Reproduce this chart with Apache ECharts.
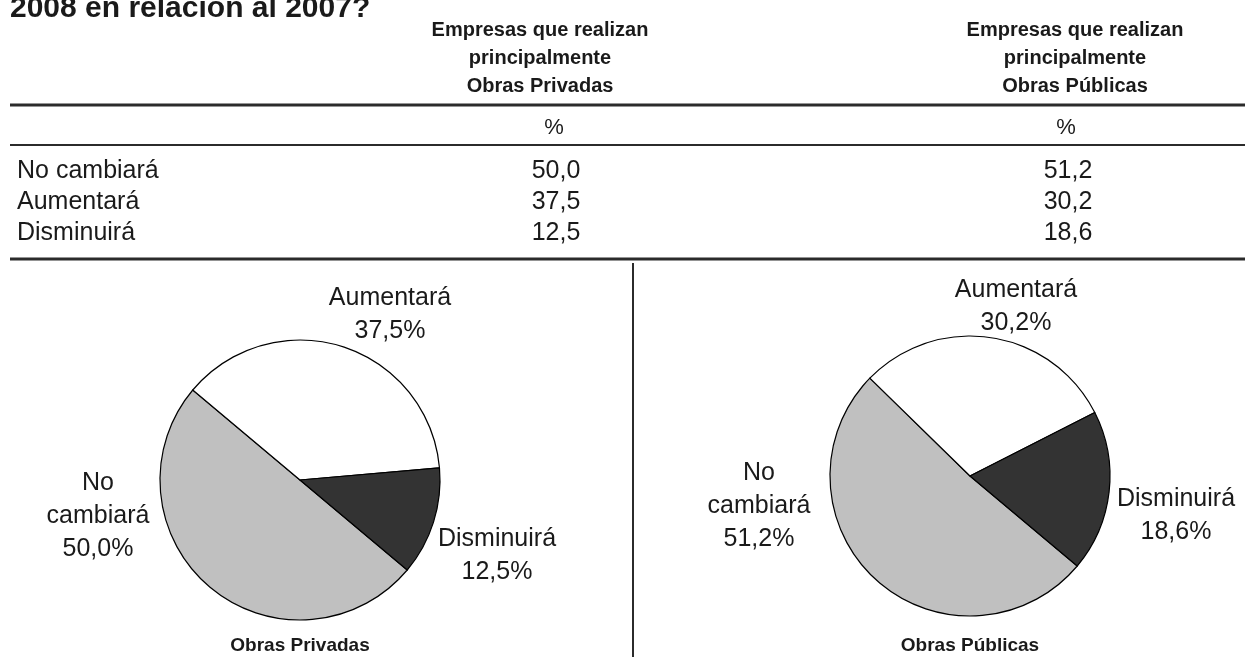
<!doctype html>
<meta charset="utf-8">
<style>
  html, body {
    margin: 0;
    height: 100%;
    background: #fff;
  }

  #chart {
    width: 1245px;
    height: 657px;
  }
</style>
<script src="https://cdn.jsdelivr.net/npm/echarts@6.0.0/dist/echarts.min.js"></script>

<div id="chart"></div>

<script>
  const categories = ['No cambiará', 'Aumentará', 'Disminuirá']
  const privadas = [50.0, 37.5, 12.5]
  const publicas = [51.2, 30.2, 18.6]
  const headTitles = ['Empresas que realizan\nprincipalmente\nObras Privadas', 'Empresas que realizan\nprincipalmente\nObras Públicas']
  const pieTitles = ['Obras Privadas', 'Obras Públicas']
  const question = '2008 en relación al 2007?'

  const FONT = '"Liberation Sans", Arial, sans-serif'
  const INK = '#1a1a1a'
  const sliceColors = ['#c0c0c0', '#ffffff', '#333333']
  const headX = [540, 1075]
  const colX = [556, 1068]
  const rowY = [171, 202, 233]
  const pieCenters = [[300, 480], [970, 476]]
  // where each pie label block sits (center of the block)
  const labelSpots = [
    [[98, 516], [390, 315], [497, 556]],
    [[759, 506], [1016, 307], [1176, 516]],
  ]

  let chart = echarts.init(document.getElementById('chart'))

  function fmt(v) {
    return v.toFixed(1).replace('.', ',')
  }

  function txt(x, y, text, size, opts) {
    return {
      type: 'text',
      x: x,
      y: y,
      silent: true,
      style: {
        text: text,
        font: (opts && opts.bold ? 'bold ' : '') + size + 'px ' + FONT,
        fill: INK,
        align: (opts && opts.align) || 'center',
        verticalAlign: 'middle',
        lineHeight: opts && opts.lineHeight,
      },
    }
  }

  function hline(y, w) {
    return {
      type: 'line',
      silent: true,
      shape: { x1: 10, y1: y, x2: 1245, y2: y },
      style: { stroke: '#2b2b2b', lineWidth: w },
    }
  }

  let graphics = [
    txt(10, 9, question, 30, { bold: true, align: 'left' }),
    hline(105, 3),
    hline(145, 2),
    hline(259, 3),
    {
      type: 'line',
      silent: true,
      shape: { x1: 633, y1: 263, x2: 633, y2: 657 },
      style: { stroke: '#2b2b2b', lineWidth: 2 },
    },
  ]

  headTitles.forEach((t, i) => {
    graphics.push(txt(headX[i], 58, t, 20, { bold: true, lineHeight: 28 }))
    graphics.push(txt(colX[i] - 2, 128, '%', 22))
  })

  categories.forEach((c, r) => {
    graphics.push(txt(17, rowY[r], c, 25, { align: 'left' }))
    graphics.push(txt(colX[0], rowY[r], fmt(privadas[r]), 25))
    graphics.push(txt(colX[1], rowY[r], fmt(publicas[r]), 25))
  })

  pieTitles.forEach((t, i) => {
    graphics.push(txt(pieCenters[i][0], 646, t, 19, { bold: true }))
  })

  function pieSeries(values, i) {
    return {
      type: 'pie',
      center: pieCenters[i],
      radius: 140,
      startAngle: 320,
      clockwise: true,
      avoidLabelOverlap: false,
      silent: true,
      emphasis: { disabled: true },
      data: categories.map((c, k) => ({
        name: c,
        value: values[k],
        itemStyle: { color: sliceColors[k] },
      })),
      itemStyle: {
        borderColor: '#000',
        borderWidth: 1.2,
      },
      label: {
        show: true,
        position: 'outside',
        fontFamily: FONT,
        fontSize: 25,
        lineHeight: 33,
        color: INK,
        formatter: p => p.name.replace(' ', '\n') + '\n' + fmt(p.value) + '%',
      },
      labelLine: { show: false },
      labelLayout: function (p) {
        let s = labelSpots[i][p.dataIndex]
        return { x: s[0], y: s[1], align: 'center', verticalAlign: 'middle' }
      },
    }
  }

  chart.setOption({
    animation: false,
    graphic: graphics,
    series: [pieSeries(privadas, 0), pieSeries(publicas, 1)],
  })
</script>
